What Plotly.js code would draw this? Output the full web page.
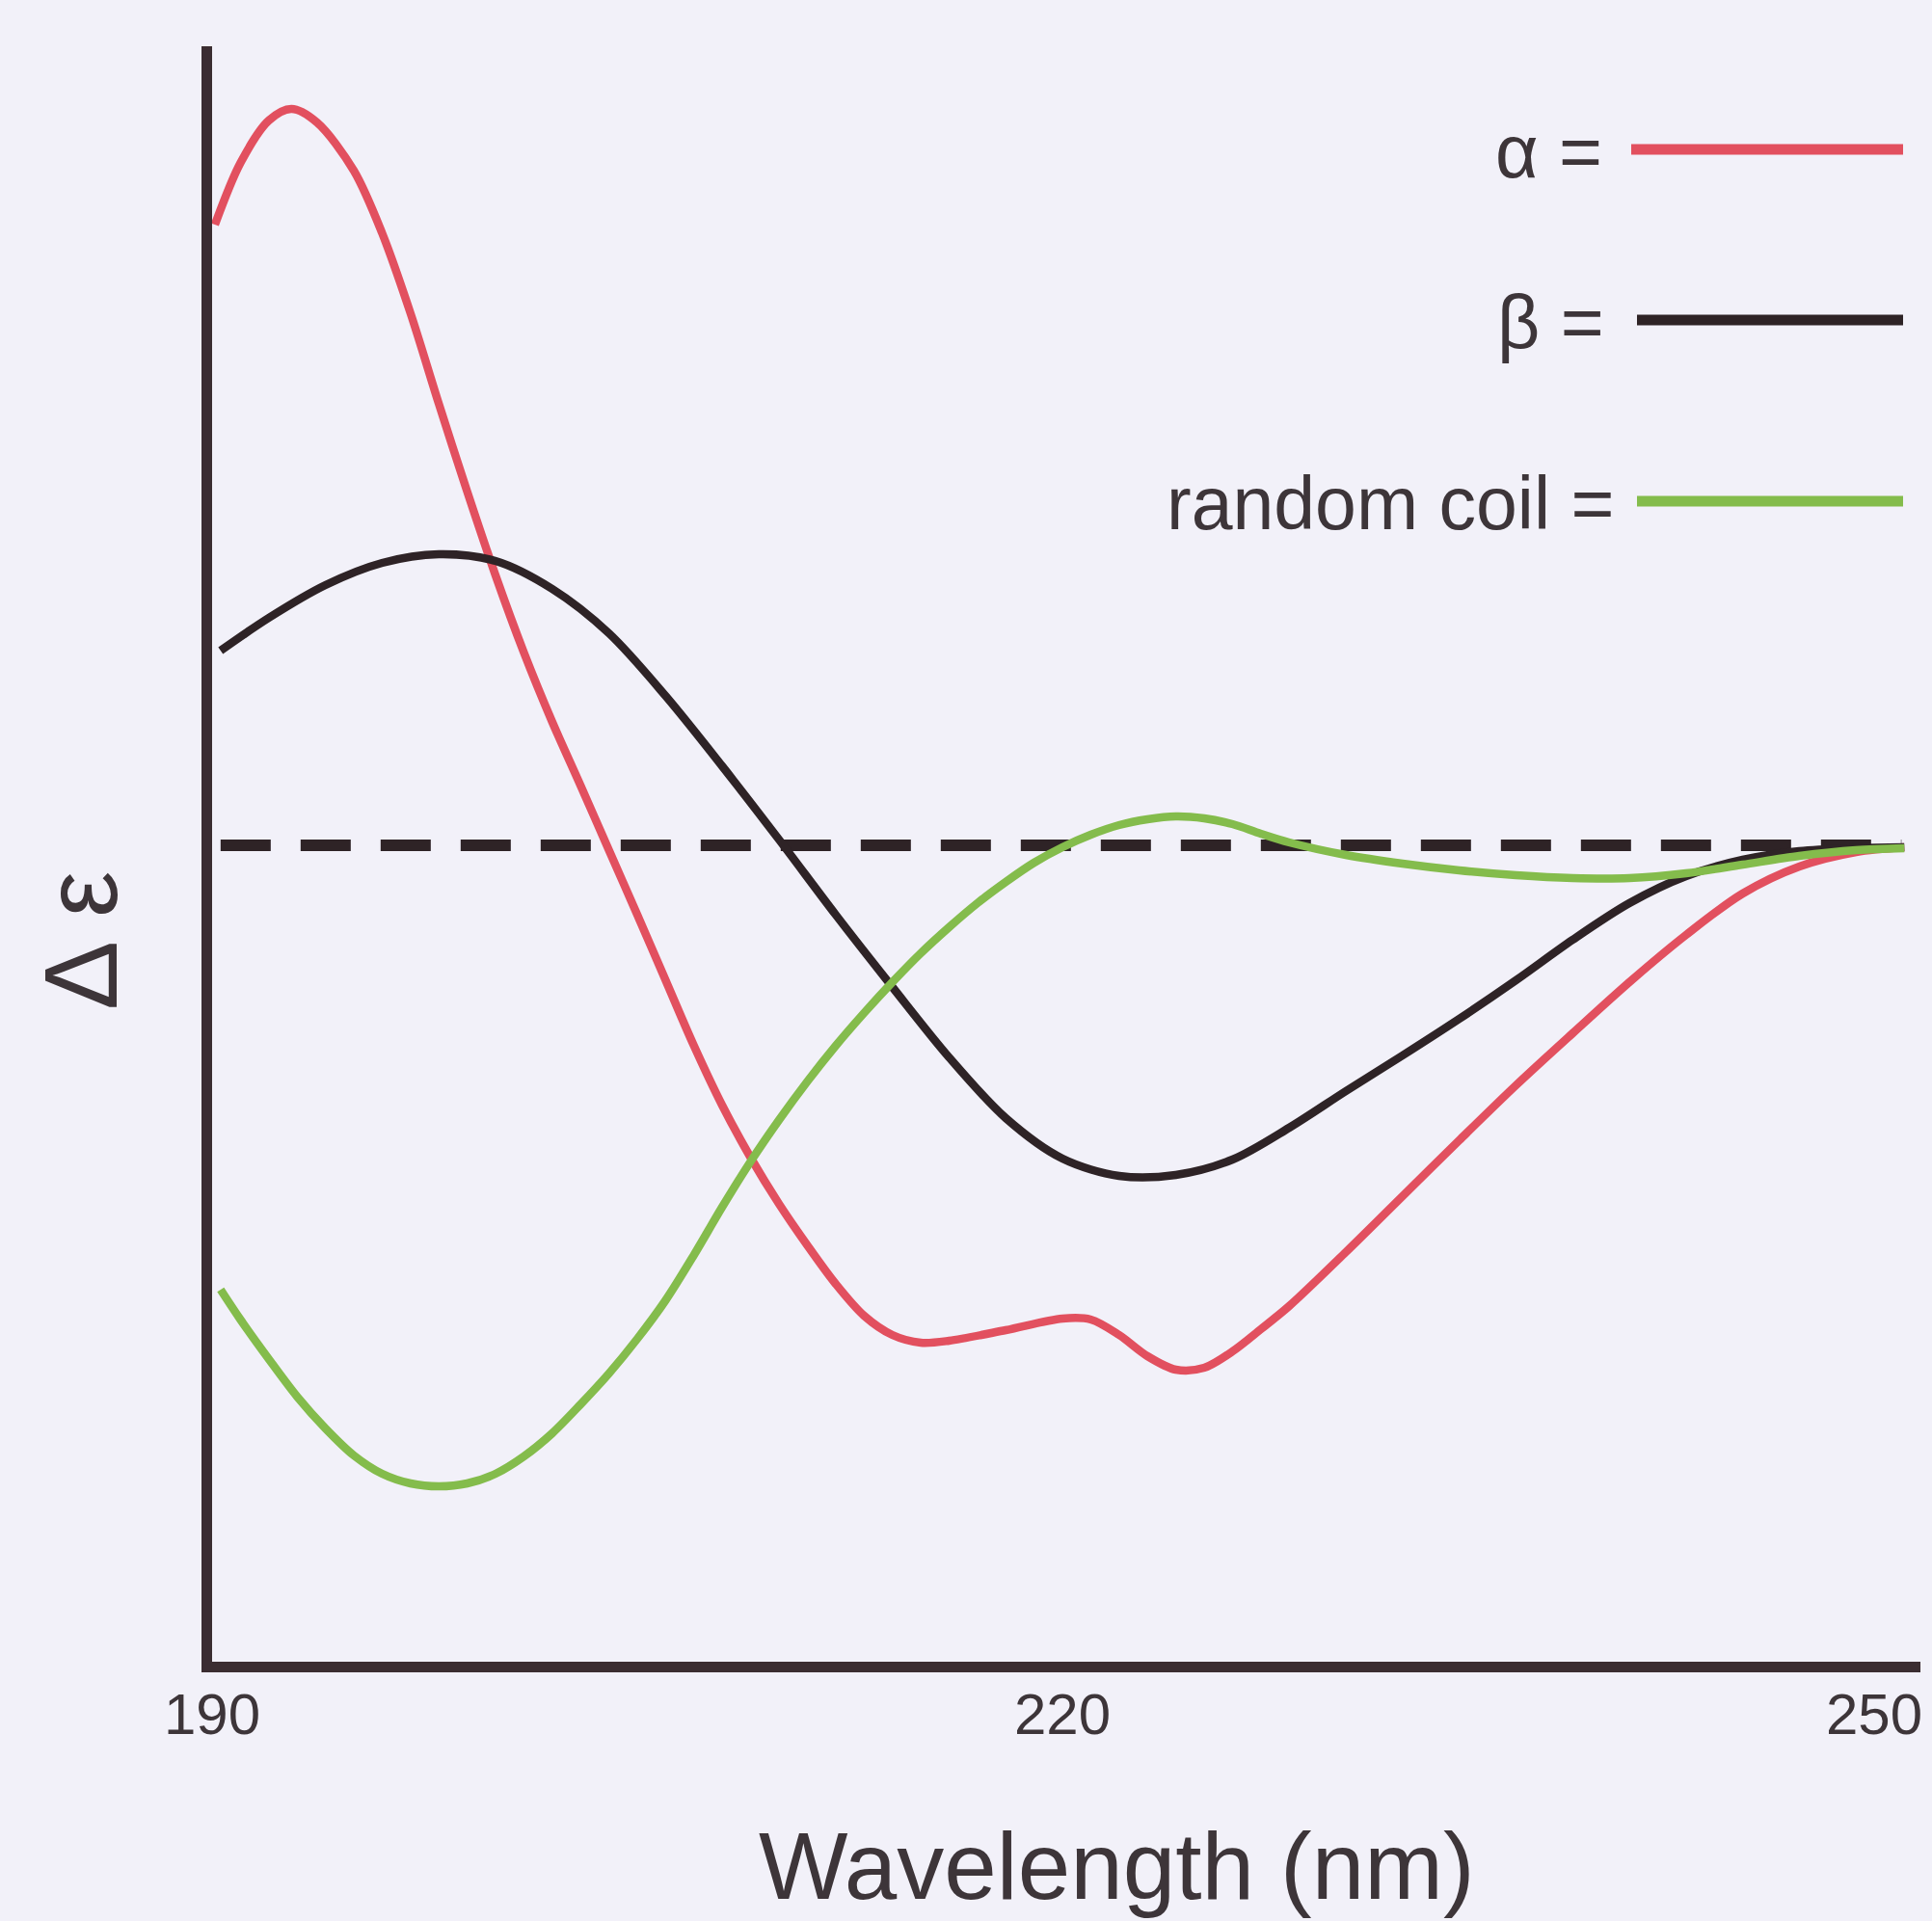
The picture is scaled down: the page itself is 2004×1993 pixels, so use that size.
<!DOCTYPE html>
<html>
<head>
<meta charset="utf-8">
<script src="https://cdn.plot.ly/plotly-3.0.1.min.js"></script>
<style>
  html, body { margin: 0; padding: 0; background: #f2f1f9; }
  #chart { width: 2004px; height: 1993px; }
</style>
</head>
<body>
<div id="chart"></div>
<script>
// Wavelength (nm) and Δε (arbitrary units)
const alphaX = [190.1, 191.0, 192.0, 192.8, 193.7, 195.0, 196.0, 197.0, 198.0, 199.0, 200.0, 201.0, 202.0, 203.0, 204.0, 205.0, 206.0, 207.0, 208.0, 209.0, 210.0, 211.0, 212.0, 213.0, 214.0, 215.0, 216.0, 218.0, 220.0, 221.0, 222.0, 223.0, 224.0, 225.0, 226.0, 227.0, 228.0, 230.0, 232.0, 234.0, 236.0, 238.0, 240.0, 242.0, 244.0, 246.0, 248.0, 249.7];
const alphaY = [6.44, 7.08, 7.52, 7.64, 7.50, 7.00, 6.35, 5.52, 4.58, 3.67, 2.80, 2.00, 1.28, 0.62, -0.05, -0.72, -1.40, -2.08, -2.70, -3.24, -3.72, -4.15, -4.55, -4.88, -5.08, -5.16, -5.14, -5.03, -4.91, -4.92, -5.08, -5.30, -5.44, -5.42, -5.25, -5.02, -4.78, -4.22, -3.64, -3.06, -2.49, -1.95, -1.42, -0.93, -0.50, -0.22, -0.07, -0.02];

const betaX = [190.3, 192.0, 194.0, 196.0, 198.0, 200.0, 202.0, 204.0, 206.0, 208.0, 210.0, 212.0, 214.0, 216.0, 218.0, 220.0, 222.0, 224.0, 226.0, 228.0, 230.0, 232.0, 234.0, 236.0, 238.0, 240.0, 242.0, 244.0, 246.0, 248.0, 249.7];
const betaY = [2.02, 2.36, 2.70, 2.93, 3.02, 2.95, 2.66, 2.20, 1.55, 0.82, 0.06, -0.72, -1.47, -2.20, -2.83, -3.25, -3.43, -3.42, -3.26, -2.93, -2.55, -2.18, -1.80, -1.40, -0.98, -0.60, -0.32, -0.15, -0.06, -0.03, -0.02];

const coilX = [190.3, 191.0, 192.0, 193.0, 194.0, 195.0, 196.0, 197.0, 198.0, 199.0, 200.0, 201.0, 202.0, 203.0, 204.0, 205.0, 206.0, 207.0, 208.0, 209.0, 210.0, 211.0, 212.0, 213.0, 214.0, 215.0, 216.0, 217.0, 218.0, 219.0, 220.0, 221.0, 222.0, 223.0, 224.0, 225.0, 226.0, 227.0, 228.0, 230.0, 232.0, 234.0, 236.0, 238.0, 240.0, 242.0, 244.0, 246.0, 248.0, 249.7];
const coilY = [-4.61, -4.92, -5.33, -5.72, -6.05, -6.33, -6.52, -6.62, -6.65, -6.62, -6.52, -6.34, -6.10, -5.80, -5.48, -5.12, -4.72, -4.25, -3.75, -3.28, -2.85, -2.45, -2.08, -1.74, -1.42, -1.12, -0.85, -0.60, -0.38, -0.18, -0.02, 0.11, 0.21, 0.27, 0.30, 0.28, 0.22, 0.12, 0.03, -0.10, -0.19, -0.26, -0.31, -0.34, -0.34, -0.29, -0.20, -0.11, -0.05, -0.03];

const seriesNames = ["α =", "β =", "random coil ="];
const tickVals = [190, 220, 250];
const tickText = ["190", "220", "250"];
const xTitle = "Wavelength (nm)";
const yTitle = "Δ ε";

const RED = "#e2505f", BLACK = "#2e2326", GREEN = "#84bc4c";
const AXIS = "#3b2d31", TXT = "#3d3539", BG = "#f2f1f9";

// plot area in pixels
const L = 220, R = 1992, T = 48, B = 1724, W = 2004, H = 1993;
const px = x => (x - L) / (R - L);
const py = y => (B - y) / (B - T);

const lineStyle = c => ({color: c, width: 8.5, shape: "spline", smoothing: 0.9});
const traces = [
  {x: alphaX, y: alphaY, mode: "lines", line: lineStyle(RED), showlegend: false, hoverinfo: "skip"},
  {x: betaX, y: betaY, mode: "lines", line: lineStyle(BLACK), showlegend: false, hoverinfo: "skip"},
  {x: coilX, y: coilY, mode: "lines", line: lineStyle(GREEN), showlegend: false, hoverinfo: "skip"}
];

const legendColors = [RED, BLACK, GREEN];
const legendY = [155, 332, 520];
const legendLineX0 = [1692, 1698, 1698];
const legendTextRight = [1664, 1666, 1676];

const shapes = [
  {type: "line", xref: "x", yref: "y", x0: 190.3, x1: 249.6, y0: 0, y1: 0,
   line: {color: BLACK, width: 12, dash: "52px,31px"}, layer: "below"}
];
const annotations = [];
for (let i = 0; i < 3; i++) {
  shapes.push({type: "line", xref: "paper", yref: "paper",
    x0: px(legendLineX0[i]), x1: px(1974), y0: py(legendY[i]), y1: py(legendY[i]),
    line: {color: legendColors[i], width: 11}});
  annotations.push({xref: "paper", yref: "paper", x: px(legendTextRight[i]), y: py(legendY[i] + 2),
    xanchor: "right", yanchor: "middle", showarrow: false, text: seriesNames[i],
    font: {family: "Liberation Sans, Arial, sans-serif", size: 77, color: TXT}});
}
// tick labels
const tickShift = [0, 0, -40];
for (let i = 0; i < tickVals.length; i++) {
  annotations.push({xref: "x", yref: "paper", x: tickVals[i], y: py(1778), xshift: tickShift[i],
    xanchor: "center", yanchor: "middle", showarrow: false, text: tickText[i],
    font: {family: "Liberation Sans Narrow, Arial Narrow, Liberation Sans, sans-serif", size: 60, color: TXT}});
}
annotations.push({xref: "paper", yref: "paper", x: px(1158), y: py(1936),
  xanchor: "center", yanchor: "middle", showarrow: false, text: xTitle,
  font: {family: "Liberation Sans, Arial, sans-serif", size: 98, color: TXT}});
annotations.push({xref: "paper", yref: "paper", x: px(84), y: py(976),
  xanchor: "center", yanchor: "middle", showarrow: false, text: yTitle, textangle: -90,
  font: {family: "Liberation Sans, Arial, sans-serif", size: 108, color: TXT}});

const layout = {
  width: W, height: H,
  margin: {l: L, r: W - R, t: T, b: H - B, pad: 0},
  paper_bgcolor: BG, plot_bgcolor: BG,
  showlegend: false,
  xaxis: {range: [190, 250.27], showgrid: false, zeroline: false, showticklabels: false, ticks: "",
          showline: true, linewidth: 11, linecolor: AXIS, fixedrange: true},
  yaxis: {range: [-8.47, 8.29], showgrid: false, zeroline: false, showticklabels: false, ticks: "",
          showline: true, linewidth: 11, linecolor: AXIS, fixedrange: true},
  shapes: shapes,
  annotations: annotations
};

Plotly.newPlot("chart", traces, layout, {staticPlot: true, displayModeBar: false});
</script>
</body>
</html>
